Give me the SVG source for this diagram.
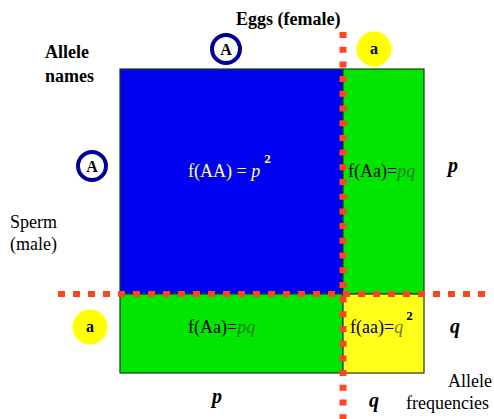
<svg xmlns="http://www.w3.org/2000/svg" width="494" height="419" viewBox="0 0 494 419">
<style>
.t{font-family:"Liberation Serif","Times New Roman",serif;font-size:18px;fill:#000}
.b{font-weight:bold}
.cell{stroke:#1a3a1a;stroke-width:1.2}
.dash{stroke:#ff4422;fill:none}
.ring{fill:#fff;stroke:#000099;stroke-width:4}
.sun{fill:#ffff00}
.lt{font-family:"Liberation Serif","Times New Roman",serif;font-size:16px;font-weight:bold;text-anchor:middle}
.fr{font-family:"Liberation Serif","Times New Roman",serif;font-size:20px;font-weight:bold;font-style:italic}
</style>
<rect width="494" height="419" fill="#fff"/>
<g id="cell-AA"><rect class="cell" x="120" y="69" width="223" height="225" fill="#0000f2"/>
<text class="t" x="188" y="177" fill="#ffff99" style="fill:#ffff99">f(AA) = <tspan font-style="italic">p</tspan><tspan font-weight="bold" font-size="13" dy="-14" dx="4">2</tspan></text></g>
<g id="cell-Aa-top"><rect class="cell" x="343" y="69" width="81" height="225" fill="#00e600"/>
<text class="t" x="348" y="177">f(Aa)=<tspan font-style="italic" style="fill:#1f7f1f">pq</tspan></text></g>
<g id="cell-Aa-bottom"><rect class="cell" x="120" y="294" width="223" height="79" fill="#00e600"/>
<text class="t" x="188" y="333">f(Aa)=<tspan font-style="italic" style="fill:#1f7f1f">pq</tspan></text></g>
<g id="cell-aa"><rect class="cell" x="343" y="294" width="81" height="79" fill="#ffff1a"/>
<text class="t" x="350" y="333">f(aa)=<tspan font-style="italic" style="fill:#7a7a00">q</tspan><tspan font-weight="bold" font-size="13" dy="-13" dx="3" style="fill:#000">2</tspan></text></g>
<g id="dividers">
<line class="dash" x1="343" y1="32" x2="343" y2="419" stroke-width="7" stroke-dasharray="6 8.7"/>
<line class="dash" x1="58" y1="294" x2="490" y2="294" stroke-width="6" stroke-dasharray="7 8"/>
</g>
<g id="allele-A-top"><circle class="ring" cx="226" cy="49" r="14"/><text class="lt" x="226" y="55">A</text></g>
<g id="allele-a-top"><circle class="sun" cx="374" cy="49" r="17.5"/><text class="lt" x="374" y="54">a</text></g>
<g id="allele-A-left"><circle class="ring" cx="92" cy="166" r="14"/><text class="lt" x="92" y="172">A</text></g>
<g id="allele-a-left"><circle class="sun" cx="90" cy="327" r="17.5"/><text class="lt" x="90" y="332">a</text></g>
<g id="label-eggs"><text class="t b" x="236" y="25">Eggs (female)</text></g>
<g id="label-allele-names"><text class="t b" x="45" y="58">Allele</text><text class="t b" x="45" y="82">names</text></g>
<g id="label-sperm"><text class="t" x="10" y="228">Sperm</text><text class="t" x="10" y="250">(male)</text></g>
<g id="label-allele-freq"><text class="t" x="492" y="387" text-anchor="end">Allele</text><text class="t" x="406" y="409">frequencies</text></g>
<g id="freq-p-right"><text class="fr" x="448" y="172">p</text></g>
<g id="freq-q-right"><text class="fr" x="450" y="333">q</text></g>
<g id="freq-p-bottom"><text class="fr" x="212" y="403">p</text></g>
<g id="freq-q-bottom"><text class="fr" x="369" y="407">q</text></g>
</svg>
